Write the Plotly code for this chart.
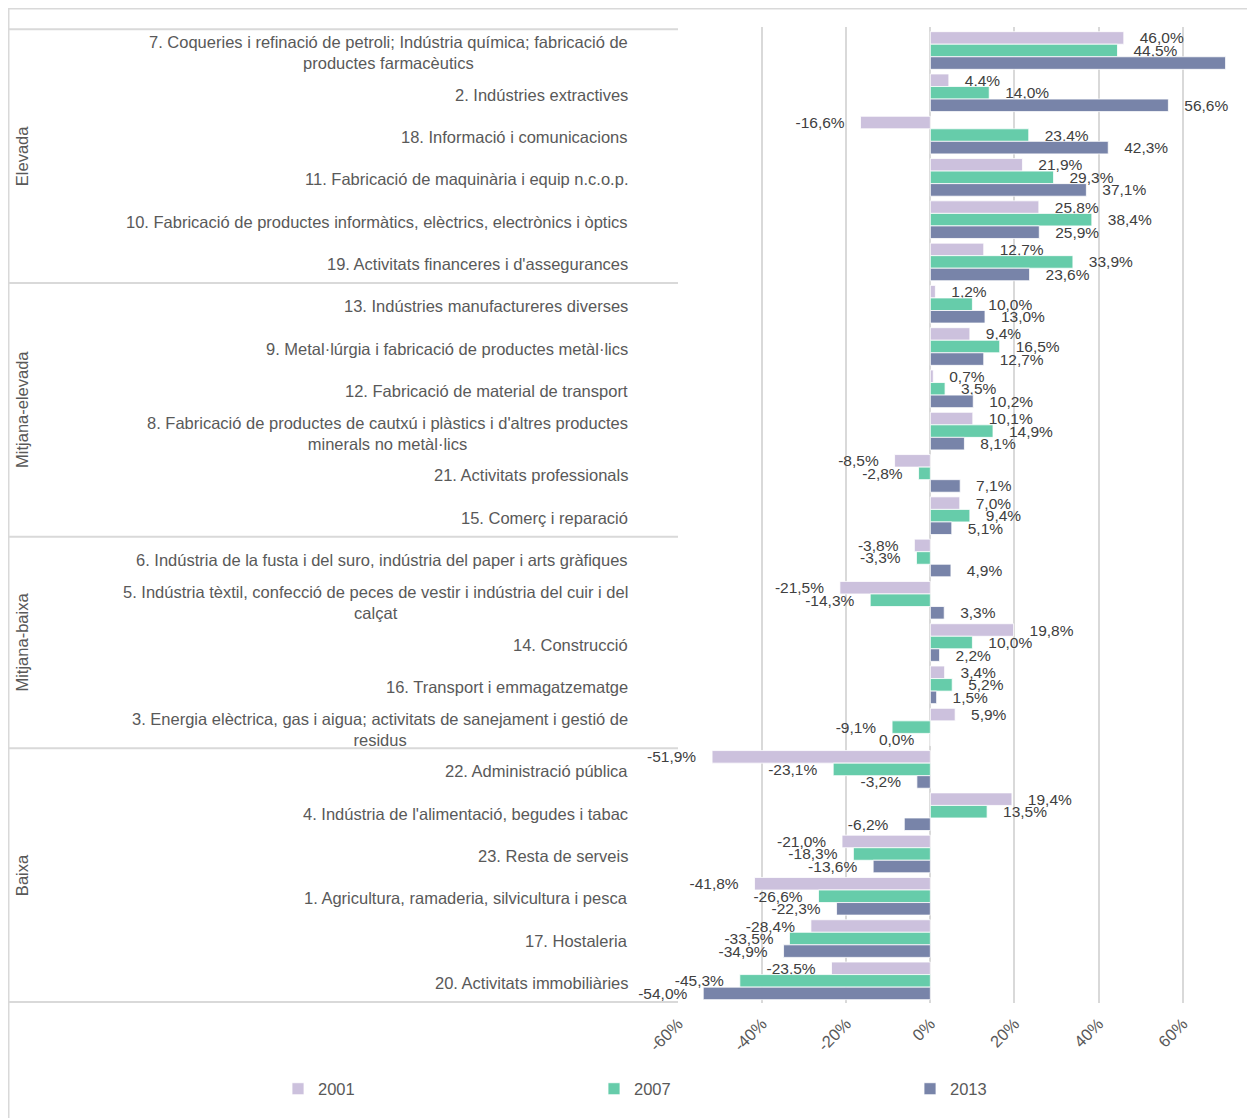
import plotly.graph_objects as go

# ---------------- data ----------------
categories = [
    "7. Coqueries i refinació de petroli; Indústria química; fabricació de<br>productes farmacèutics",
    "2. Indústries extractives",
    "18. Informació i comunicacions",
    "11. Fabricació de maquinària i equip n.c.o.p.",
    "10. Fabricació de productes informàtics, elèctrics, electrònics i òptics",
    "19. Activitats financeres i d'assegurances",
    "13. Indústries manufactureres diverses",
    "9. Metal·lúrgia i fabricació de productes metàl·lics",
    "12. Fabricació de material de transport",
    "8. Fabricació de productes de cautxú i plàstics i d'altres productes<br>minerals no metàl·lics",
    "21. Activitats professionals",
    "15. Comerç i reparació",
    "6. Indústria de la fusta i del suro, indústria del paper i arts gràfiques",
    "5. Indústria tèxtil, confecció de peces de vestir i indústria del cuir i del<br>calçat",
    "14. Construcció",
    "16. Transport i emmagatzematge",
    "3. Energia elèctrica, gas i aigua; activitats de sanejament i gestió de<br>residus",
    "22. Administració pública",
    "4. Indústria de l'alimentació, begudes i tabac",
    "23. Resta de serveis",
    "1. Agricultura, ramaderia, silvicultura i pesca",
    "17. Hostaleria",
    "20. Activitats immobiliàries",
]

groups = ["Elevada", "Mitjana-elevada", "Mitjana-baixa", "Baixa"]
group_sizes = [6, 6, 5, 6]

series_names = ["2001", "2007", "2013"]
v2001 = [46.0, 4.4, -16.6, 21.9, 25.8, 12.7, 1.2, 9.4, 0.7, 10.1, -8.5, 7.0,
         -3.8, -21.5, 19.8, 3.4, 5.9, -51.9, 19.4, -21.0, -41.8, -28.4, -23.5]
v2007 = [44.5, 14.0, 23.4, 29.3, 38.4, 33.9, 10.0, 16.5, 3.5, 14.9, -2.8, 9.4,
         -3.3, -14.3, 10.0, 5.2, -9.1, -23.1, 13.5, -18.3, -26.6, -33.5, -45.3]
v2013 = [70.2, 56.6, 42.3, 37.1, 25.9, 23.6, 13.0, 12.7, 10.2, 8.1, 7.1, 5.1,
         4.9, 3.3, 2.2, 1.5, -0.04, -3.2, -6.2, -13.6, -22.3, -34.9, -54.0]
series_values = [v2001, v2007, v2013]
series_colors = ["#ccc1dd", "#66ccaa", "#7884a9"]

x_tickvals = [-60, -40, -20, 0, 20, 40, 60]
x_ticktext = ["-60%", "-40%", "-20%", "0%", "20%", "40%", "60%"]
x_range = [-60, 70.3]

# ---------------- layout geometry ----------------
OFF = 8  # page body margin
W, H = 1255 - OFF, 1118 - OFF
PL, PR, PT, PB = 678, 1226, 27, 1003  # plot area in page pixels
ML, MR, MT, MB = PL - OFF, W - (PR - OFF), PT - OFF, H - (PB - OFF)
PW = W - ML - MR
PH = H - MT - MB


def px_to_paper_x(px):
    return (px - OFF - ML) / PW


def px_to_paper_y(py):
    return (H - MB - (py - OFF)) / PH


NB = "\u00a0"


def fmt(v):
    s = f"{v:.1f}"
    if s == "-0.0":
        s = "0.0"
    return s.replace(".", ",") + "%"


def label_text(v):
    if v > x_range[1] - 0.5:
        return ""  # label falls outside the chart (not visible in original)
    if v < 0:
        return fmt(v) + NB * 3
    return NB * 3 + fmt(v)


FONT = "Liberation Sans"
fig = go.Figure()
for name, vals, col in zip(series_names, series_values, series_colors):
    fig.add_trace(go.Bar(
        y=categories, x=vals, name=name, orientation="h",
        marker=dict(color=col, line=dict(color="white", width=0.8)),
        text=[label_text(v) for v in vals],
        textposition="outside", constraintext="none", cliponaxis=False,
        textfont=dict(family=FONT, size=15.5, color="#404040"),
        hoverinfo="x+y+name",
    ))

annotations = []
for cat in categories:
    annotations.append(dict(
        xref="paper", yref="y", x=px_to_paper_x(630), y=cat,
        text=cat, showarrow=False, xanchor="right", yanchor="middle",
        align="center", yshift=-2,
        font=dict(family=FONT, size=16.5, color="#595959"),
    ))

shapes = []
start = 0
bounds = [-0.5]
for g, n in zip(groups, group_sizes):
    mid = start + (n - 1) / 2
    annotations.append(dict(
        xref="paper", yref="y", x=px_to_paper_x(22), y=mid,
        text=g, showarrow=False, textangle=-90,
        xanchor="center", yanchor="middle",
        font=dict(family=FONT, size=16.5, color="#595959"),
    ))
    start += n
    bounds.append(start - 0.5)

line_col = "#d9d9d9"
for b in bounds:
    shapes.append(dict(type="line", xref="paper", yref="y",
                       x0=px_to_paper_x(8), x1=0, y0=b, y1=b,
                       line=dict(color=line_col, width=2)))
# outer chart border (left/top visible)
shapes.append(dict(type="rect", xref="paper", yref="paper",
                   x0=px_to_paper_x(8.5), x1=px_to_paper_x(1280),
                   y0=px_to_paper_y(1140), y1=px_to_paper_y(8.5),
                   line=dict(color=line_col, width=2), layer="below"))

fig.update_layout(
    width=W, height=H,
    margin=dict(l=ML, r=MR, t=MT, b=MB),
    paper_bgcolor="white", plot_bgcolor="white",
    barmode="group", bargap=0.11, bargroupgap=0,
    font=dict(family=FONT, color="#595959"),
    xaxis=dict(range=x_range, tickvals=x_tickvals, ticktext=x_ticktext,
               tickangle=-45, showgrid=True, gridcolor=line_col, gridwidth=2,
               zeroline=False, showline=False, ticks="", ticklabelstandoff=7,
               tickfont=dict(family=FONT, size=16.5, color="#595959")),
    yaxis=dict(categoryorder="array", categoryarray=categories,
               autorange="reversed", showticklabels=False, showgrid=False,
               zeroline=False, showline=False, ticks=""),
    showlegend=True,
    legend=dict(orientation="h", x=px_to_paper_x(278), y=px_to_paper_y(1089),
                xanchor="left", yanchor="middle",
                entrywidth=271, entrywidthmode="pixels",
                font=dict(family=FONT, size=16.5, color="#595959"),
                itemwidth=30, traceorder="normal"),
    annotations=annotations, shapes=shapes,
)

fig.write_html("out.html")
